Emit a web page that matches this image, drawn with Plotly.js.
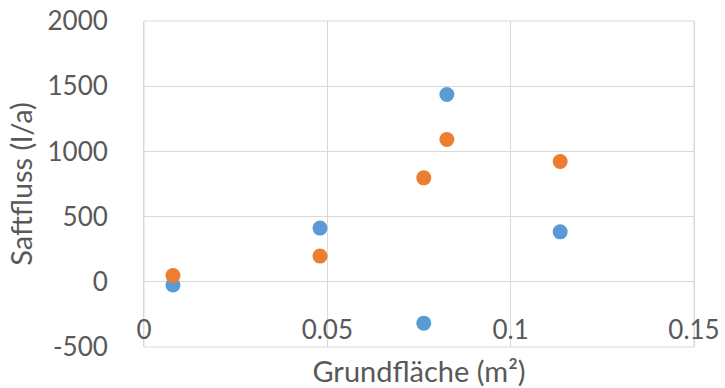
<!DOCTYPE html>
<html>
<head>
<meta charset="utf-8">
<script src="https://cdn.plot.ly/plotly-3.0.1.min.js"></script>
<style>html,body{margin:0;padding:0;background:#fff}#chart{width:725px;height:388px}</style>
</head>
<body>
<div id="chart"></div>
<script>
// Grundfläche (m²) and Saftfluss (l/a) for two measurement series
const grundflaeche = [0.0079, 0.048, 0.0763, 0.0826, 0.1135];
const saftflussBlau = [-25, 412, -317, 1436, 383];
const saftflussOrange = [48, 197, 797, 1091, 922];
const xTicks = [0, 0.05, 0.1, 0.15];
const xTickText = ['0', '0.05', '0.1', '0.15'];
const yTicks = [-500, 0, 500, 1000, 1500, 2000];
const yTickText = ['-500', '0', '500', '1000', '1500', '2000'];

const font = 'Lato, "Open Sans", sans-serif';
const textColor = '#595959';
const gridColor = '#d9d9d9';

const traces = [
  {x: grundflaeche, y: saftflussBlau, type: 'scatter', mode: 'markers',
   marker: {color: '#5b9bd5', size: 15}, cliponaxis: false},
  {x: grundflaeche, y: saftflussOrange, type: 'scatter', mode: 'markers',
   marker: {color: '#ed7d31', size: 15}, cliponaxis: false}
];

const layout = {
  width: 725, height: 388,
  margin: {l: 144, r: 31, t: 21, b: 41},
  paper_bgcolor: '#fff', plot_bgcolor: '#fff',
  showlegend: false,
  font: {family: font, color: textColor},
  xaxis: {
    range: [0, 0.15], tickvals: xTicks, ticktext: xTickText,
    anchor: 'free', position: 0.2,
    showgrid: true, gridcolor: gridColor, gridwidth: 1,
    zeroline: false, showline: false,
    ticks: '', ticklabelstandoff: 30,
    tickfont: {size: 26, color: textColor},
    title: {text: 'Grundfläche (m²)', font: {size: 29, color: textColor}, standoff: 22},
    automargin: false
  },
  yaxis: {
    range: [-500, 2000], tickvals: yTicks, ticktext: yTickText,
    showgrid: true, gridcolor: gridColor, gridwidth: 1,
    zeroline: true, zerolinecolor: gridColor, zerolinewidth: 1,
    showline: true, linecolor: gridColor, mirror: true,
    ticks: '', ticklabelstandoff: 30,
    tickfont: {size: 26, color: textColor},
    title: {text: 'Saftfluss (l/a)', font: {size: 29, color: textColor}, standoff: 6},
    automargin: false
  },
  shapes: [
    {type: 'rect', xref: 'paper', yref: 'paper', x0: 0, x1: 1, y0: 0, y1: 1,
     line: {color: gridColor, width: 1}, layer: 'below'}
  ]
};

Plotly.newPlot('chart', traces, layout, {staticPlot: true});
</script>
</body>
</html>
